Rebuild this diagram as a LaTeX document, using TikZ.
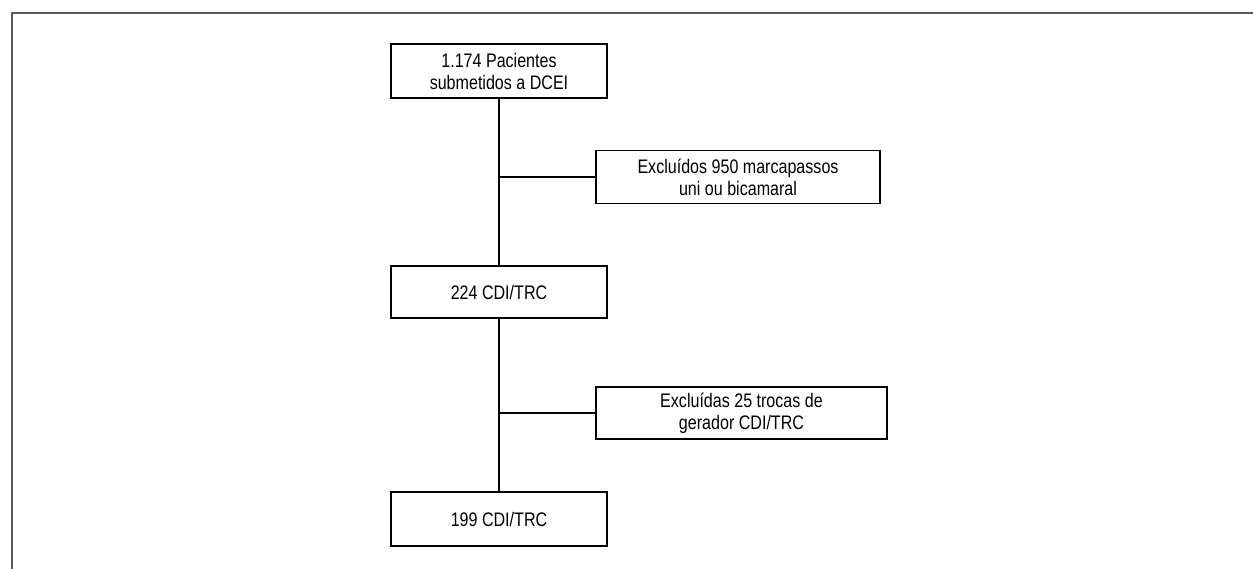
\documentclass[tikz,border=0pt]{standalone}
\usepackage{fontspec}
\setmainfont[FakeStretch=0.82]{Liberation Sans}
\usepackage{tikz}
\usetikzlibrary{positioning}

\tikzset{
  caixa/.style={draw, line width=1.6pt, minimum width=216pt, minimum height=54pt,
    align=center, inner sep=0pt, font=\fontsize{19.6}{22}\selectfont},
  exclusao/.style={caixa, minimum height=53pt},
  ligacao/.style={line width=1.6pt}
}

\begin{document}
\begin{tikzpicture}[x=1pt, y=-1pt]
\useasboundingbox (0,0) rectangle (1253,569);

% moldura
\draw [line width=1.5pt, black!65] (12,569) -- (12,13) -- (1253,13);

\node [caixa] (pacientes) at (499, 71) {1.174 Pacientes\\submetidos a DCEI};
\node [exclusao, minimum width=284pt] (excl_mp) at (738, 177) {Excluídos 950 marcapassos\\uni ou bicamaral};
\node [caixa, minimum height=52pt] (cdi_a) at (499, 292) {224 CDI/TRC};
\node [exclusao, minimum width=291pt, minimum height=52pt] (excl_tr) at (741.5, 413) {Excluídas 25 trocas de\\gerador CDI/TRC};
\node [caixa] (cdi_b) at (499, 519) {199 CDI/TRC};

\draw [ligacao] (pacientes) -- (cdi_a);
\draw [ligacao] (cdi_a) -- (cdi_b);
\draw [ligacao] (pacientes |- excl_mp) -- (excl_mp);
\draw [ligacao] (cdi_a |- excl_tr) -- (excl_tr);
\end{tikzpicture}
\end{document}
